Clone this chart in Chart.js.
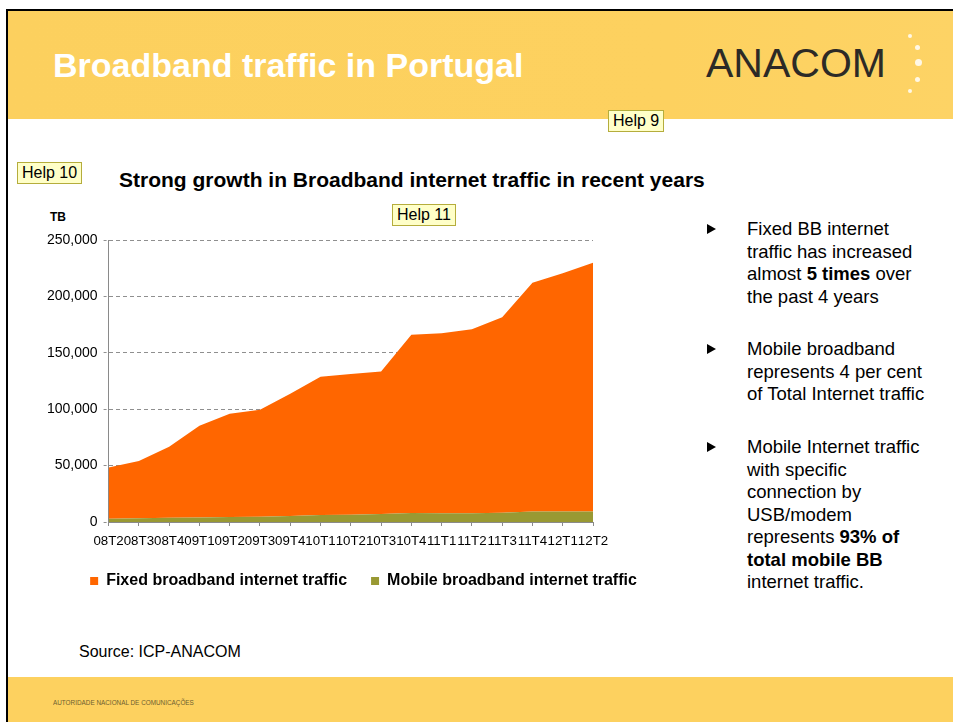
<!DOCTYPE html>
<html>
<head>
<meta charset="utf-8">
<script src="https://cdn.jsdelivr.net/npm/chart.js"></script>
<style>
  body { margin: 0; width: 953px; height: 722px; overflow: hidden; position: relative; background: #fff;
         font-family: 'Liberation Sans', Arial, sans-serif; }
  .abs { position: absolute; }
  #frame { left: 6px; top: 9px; width: 947px; height: 713px; border-top: 2px solid #000; border-left: 2px solid #000; box-sizing: border-box; }
  #header { left: 8px; top: 11px; width: 945px; height: 108px; background: linear-gradient(90deg, #fcd05e 0%, #fdd15f 70%, #fdd365 100%); }
  #footer { left: 8px; top: 677px; width: 945px; height: 45px; background: #fdd15f; }
  #title { left: 53px; top: 48px; font-size: 34px; line-height: 34px; font-weight: bold; color: #fff; white-space: nowrap; }
  #logo { left: 706px; top: 43px; font-size: 41px; line-height: 41px; color: #2c2a26; white-space: nowrap; }
  .dot { position: absolute; background: #fff8e6; border-radius: 50%; }
  .help { position: absolute; background: #ffffc8; border: 1px solid #b5ad3c; font-size: 16px; line-height: 20px; padding: 0 4px; white-space: nowrap; color: #000; }
  #ctitle { left: 119px; top: 168px; font-size: 21px; line-height: 24px; font-weight: bold; white-space: nowrap; color: #000; }
  #tb { left: 50px; top: 210px; font-size: 12px; line-height: 14px; font-weight: bold; }
  .bul { position: absolute; left: 747px; font-size: 18.5px; line-height: 22.5px; color: #000; white-space: nowrap; }
  .tri { position: absolute; left: 707px; width: 0; height: 0; border-left: 9px solid #000; border-top: 5px solid transparent; border-bottom: 5px solid transparent; }
  #source { left: 79px; top: 642px; font-size: 16px; line-height: 20px; white-space: nowrap; }
  #foottext { left: 53px; top: 698px; font-size: 7px; line-height: 9px; color: #6e5e30; white-space: nowrap; transform: scaleX(0.91); transform-origin: left top; }
  #chart { position: absolute; left: 36px; top: 222px; }
</style>
</head>
<body>
<div id="frame" class="abs"></div>
<div id="header" class="abs"></div>
<div id="title" class="abs">Broadband traffic in Portugal</div>
<div id="logo" class="abs">ANACOM</div>
<div class="dot" style="left:908px;top:34px;width:4px;height:4px"></div>
<div class="dot" style="left:914.5px;top:44.5px;width:5px;height:5px"></div>
<div class="dot" style="left:915px;top:59px;width:7px;height:7px"></div>
<div class="dot" style="left:914.5px;top:76.5px;width:5px;height:5px"></div>
<div class="dot" style="left:908px;top:89px;width:4px;height:4px"></div>

<div class="help" style="left:608px;top:110px">Help 9</div>
<div class="help" style="left:17px;top:162px">Help 10</div>
<div class="help" style="left:392px;top:204px">Help 11</div>

<div id="ctitle" class="abs">Strong growth in Broadband internet traffic in recent years</div>
<div id="tb" class="abs">TB</div>

<canvas id="chart" width="650" height="380"></canvas>

<div class="tri" style="top:224px"></div>
<div class="bul" style="top:218px">Fixed BB internet<br>traffic has increased<br>almost <b>5 times</b> over<br>the past 4 years</div>
<div class="tri" style="top:344px"></div>
<div class="bul" style="top:338px">Mobile broadband<br>represents 4 per cent<br>of Total Internet traffic</div>
<div class="tri" style="top:442px"></div>
<div class="bul" style="top:436px">Mobile Internet traffic<br>with specific<br>connection by<br>USB/modem<br>represents <b>93% of</b><br><b>total mobile BB</b><br>internet traffic.</div>

<div id="source" class="abs">Source: ICP-ANACOM</div>
<div id="footer" class="abs"></div>
<div id="foottext" class="abs">AUTORIDADE NACIONAL DE COMUNICAÇÕES</div>

<script>
const quarters = ['08T2','08T3','08T4','09T1','09T2','09T3','09T4','10T1','10T2','10T3','10T4','11T1','11T2','11T3','11T4','12T1','12T2'];
// TB per quarter
const fixedTraffic = [45450, 50750, 62900, 81200, 91500, 94800, 108300, 122500, 124800, 126300, 157900, 159700, 163200, 173200, 202800, 211100, 220500];
const mobileTraffic = [2950, 3250, 3800, 4100, 4400, 4700, 5300, 6200, 6500, 7100, 8000, 7700, 7700, 8300, 9400, 9400, 9400];
const yTicks = [0, 50000, 100000, 150000, 200000, 250000];

Chart.defaults.font.family = "'Liberation Sans', Arial, sans-serif";
Chart.defaults.color = '#000';

new Chart(document.getElementById('chart'), {
    type: 'line',
    data: {
        labels: quarters,
        datasets: [{
            label: 'Mobile broadband internet traffic',
            data: mobileTraffic,
            backgroundColor: '#999933',
            borderColor: '#999933',
            borderWidth: 0,
            pointRadius: 0,
            fill: 'origin',
            tension: 0
        }, {
            label: 'Fixed broadband internet traffic',
            data: fixedTraffic,
            backgroundColor: '#ff6600',
            borderColor: '#ff6600',
            borderWidth: 0,
            pointRadius: 0,
            fill: '-1',
            tension: 0
        }]
    },
    options: {
        responsive: false,
        animation: false,
        layout: { padding: { left: 5, right: 0, top: 18, bottom: 3 } },
        scales: {
            x: {
                offset: false,
                grid: { display: true, drawOnChartArea: false, drawTicks: true, tickLength: 4, color: '#8a8a8a' },
                border: { display: true, color: '#8a8a8a' },
                ticks: { autoSkip: false, maxRotation: 0, minRotation: 0, padding: 7, font: { size: 13.3 }, color: '#000' },
                afterFit: (axis) => { axis.height = 27; }
            },
            y: {
                stacked: true,
                min: 0,
                max: 250000,
                afterBuildTicks: (axis) => { axis.ticks = yTicks.map(v => ({ value: v })); },
                grid: { color: '#8f8f8f', tickLength: 5, tickBorderDash: [3, 2] },
                border: { display: true, color: '#8a8a8a', dash: [4, 3] },
                ticks: { padding: 6, font: { size: 14 }, color: '#000',
                    callback: v => v.toLocaleString('en-US') }
            },
            // empty spacer on the right so the plot stops where the legend can still be wide
            spacer: {
                type: 'linear',
                position: 'right',
                grid: { display: false },
                border: { display: false },
                ticks: { display: false },
                afterFit: (axis) => { axis.width = 93; }
            }
        },
        plugins: {
            legend: {
                position: 'bottom',
                reverse: true,
                labels: { boxWidth: 8, boxHeight: 8, padding: 24, color: '#000', font: { size: 16, weight: 'bold' } }
            },
            tooltip: { enabled: false },
            title: { display: false }
        }
    }
});
</script>
</body>
</html>
